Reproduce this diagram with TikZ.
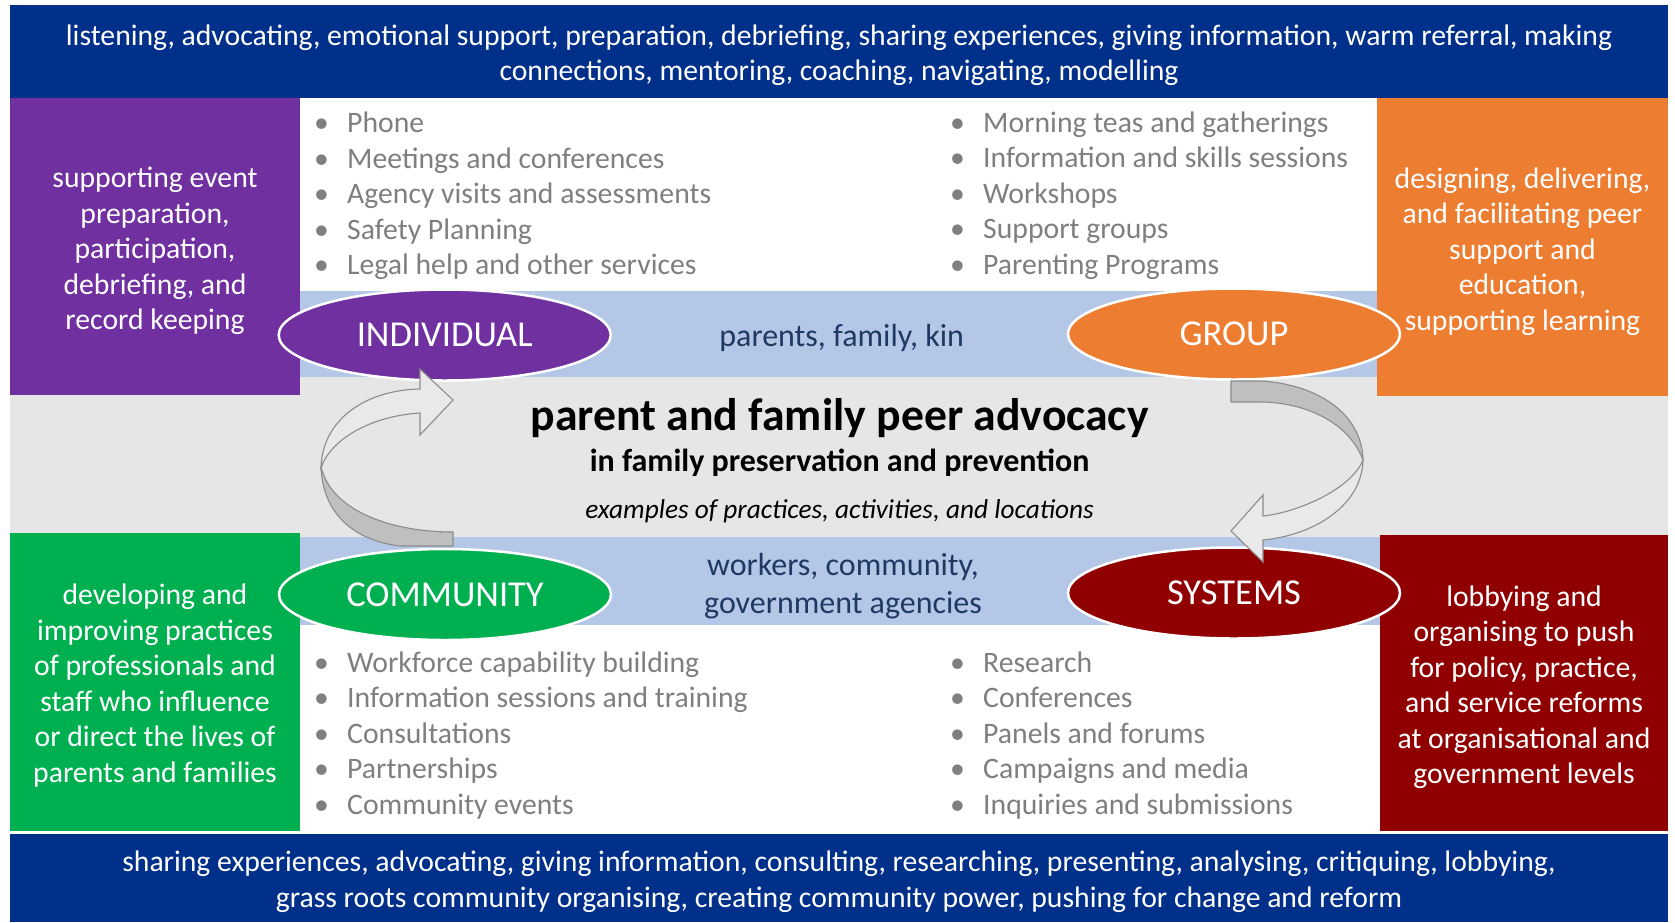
\documentclass[tikz,border=0pt]{standalone}
\usepackage{fontspec}
\setmainfont{Carlito}
\usetikzlibrary{shapes.geometric}
\definecolor{navyband}{HTML}{00308A}
\definecolor{purplebox}{HTML}{7030A0}
\definecolor{orangebox}{HTML}{ED7D31}
\definecolor{greenbox}{HTML}{00B050}
\definecolor{redbox}{HTML}{900000}
\definecolor{lightblue}{HTML}{B4C7E7}
\definecolor{midgray}{HTML}{E6E6E6}
\definecolor{listgray}{HTML}{7F7F7F}
\definecolor{darknavy}{HTML}{203864}
\definecolor{arrowback}{HTML}{BFBFBF}
\definecolor{arrowfront}{HTML}{E9E9E9}
\definecolor{arrowline}{HTML}{8C8C8C}
\begin{document}
\begin{tikzpicture}[x=1pt,y=-1pt,
  band/.style={fill=navyband, text=white, inner sep=0pt, align=center,
    font=\fontsize{29.7}{35.5}\selectfont},
  sidebox/.style={inner sep=0pt, text=white, align=center,
    font=\fontsize{29.7}{35.5}\selectfont},
  oval/.style={ellipse, draw=white, line width=2.5pt, inner sep=0pt,
    minimum width=332pt, minimum height=91pt, text=white,
    font=\fontsize{36.5}{40}\selectfont},
  item/.style={anchor=base west, inner sep=0pt, text=listgray,
    font=\fontsize{29.7}{35.5}\selectfont},
  midtext/.style={text=darknavy, align=center, inner sep=0pt,
    font=\fontsize{32}{38.5}\selectfont},
  backpart/.style={fill=arrowback, draw=arrowline, line width=1.1pt, line join=round},
  frontpart/.style={fill=arrowfront, draw=arrowline, line width=1.1pt, line join=miter}
]
\useasboundingbox (0,0) rectangle (1675,922);
\fill[white] (0,0) rectangle (1675,922);
% background bands
\fill[midgray] (10,377) rectangle (1668,537);
\fill[lightblue] (300,290.5) rectangle (1377,377);
\fill[lightblue] (300,537) rectangle (1380,625);
% top and bottom bands
\fill[navyband] (10,5) rectangle (1668,98.3);
\fill[navyband] (10,834) rectangle (1668,922);
\node[band, fill=none] (topband) at (839,55)
  {listening, advocating, emotional support, preparation, debriefing, sharing experiences, giving information, warm referral, making\\
   connections, mentoring, coaching, navigating, modelling};
\node[band, fill=none] (botband) at (839,881.5)
  {sharing experiences, advocating, giving information, consulting, researching, presenting, analysing, critiquing, lobbying,\\
   grass roots community organising, creating community power, pushing for change and reform};
% side boxes
\fill[purplebox] (10,98) rectangle (300,395);
\fill[orangebox] (1377,98) rectangle (1668,396);
\fill[greenbox] (10,533) rectangle (300,831);
\fill[redbox] (1380,535) rectangle (1668,831);
\node[sidebox] (purple) at (155,250.8)
  {supporting event\\preparation,\\participation,\\debriefing, and\\record keeping};
\node[sidebox] (orange) at (1522.5,251.3)
  {designing, delivering,\\and facilitating peer\\support and\\education,\\supporting learning};
\node[sidebox] (green) at (155,685.5)
  {developing and\\improving practices\\of professionals and\\staff who influence\\or direct the lives of\\parents and families};
\node[sidebox] (red) at (1524,687.3)
  {lobbying and\\organising to push\\for policy, practice,\\and service reforms\\at organisational and\\government levels};
% lists
\foreach \t [count=\i from 0] in {Phone, Meetings and conferences, Agency visits and assessments, Safety Planning, Legal help and other services}
  \node[item] (tl\i) at (314,{132.5+35.6*\i}) {\makebox[33pt][l]{•}\t};
\foreach \t [count=\i from 0] in {Morning teas and gatherings, Information and skills sessions, Workshops, Support groups, Parenting Programs}
  \node[item] (tr\i) at (950,{132+35.6*\i}) {\makebox[33pt][l]{•}\t};
\foreach \t [count=\i from 0] in {Workforce capability building, Information sessions and training, Consultations, Partnerships, Community events}
  \node[item] (bl\i) at (314,{672+35.6*\i}) {\makebox[33pt][l]{•}\t};
\foreach \t [count=\i from 0] in {Research, Conferences, Panels and forums, Campaigns and media, Inquiries and submissions}
  \node[item] (br\i) at (950,{672+35.6*\i}) {\makebox[33pt][l]{•}\t};
% middle texts
\node[midtext] (kin) at (841.7,337.6) {parents, family, kin};
\node[midtext] (workers) at (843,586.2) {workers, community,\\government agencies};
\node[inner sep=0pt, font=\fontsize{45.7}{50}\bfseries\selectfont] (title) at (839.6,417.7) {parent and family peer advocacy};
\node[inner sep=0pt, font=\fontsize{32}{36}\bfseries\selectfont] (subtitle) at (839.6,463.2) {in family preservation and prevention};
\node[inner sep=0pt, font=\fontsize{27.3}{32}\itshape\selectfont] (examples) at (839.6,511.7) {examples of practices, activities, and locations};
% ellipses
\node[oval, fill=purplebox] (individual) at (444.7,335) {\raisebox{-1pt}{INDIVIDUAL}};
\node[oval, fill=orangebox] (group) at (1234,334) {\raisebox{-1pt}{GROUP}};
\node[oval, fill=greenbox] (community) at (445,594.5) {\raisebox{-1pt}{COMMUNITY}};
\node[oval, fill=redbox] (systems) at (1234,593) {\raisebox{-1pt}{SYSTEMS}};
% curved block arrows: community -> individual
\path[backpart] (321,466) .. controls (330,510) and (390,532) .. (453,532)
  -- (453,546) -- (400,546) .. controls (350,540) and (322,510) .. (321,466) -- cycle;
\path[frontpart] (420,389) .. controls (365,390) and (322,420) .. (321,468)
  .. controls (330,440) and (370,416) .. (420,413)
  -- (420,435) -- (453,400) -- (420,369) -- cycle;
% group -> systems
\path[backpart] (1231,381) -- (1262,381) .. controls (1320,385) and (1362,415) .. (1363,460)
  .. controls (1350,425) and (1310,403) .. (1262,402) -- (1231,402) -- cycle;
\path[frontpart] (1363,460) .. controls (1362,505) and (1315,535) .. (1263,540)
  -- (1263,562) -- (1231,531) -- (1263,495) -- (1263,516)
  .. controls (1300,512) and (1352,488) .. (1363,460) -- cycle;
\end{tikzpicture}
\end{document}
